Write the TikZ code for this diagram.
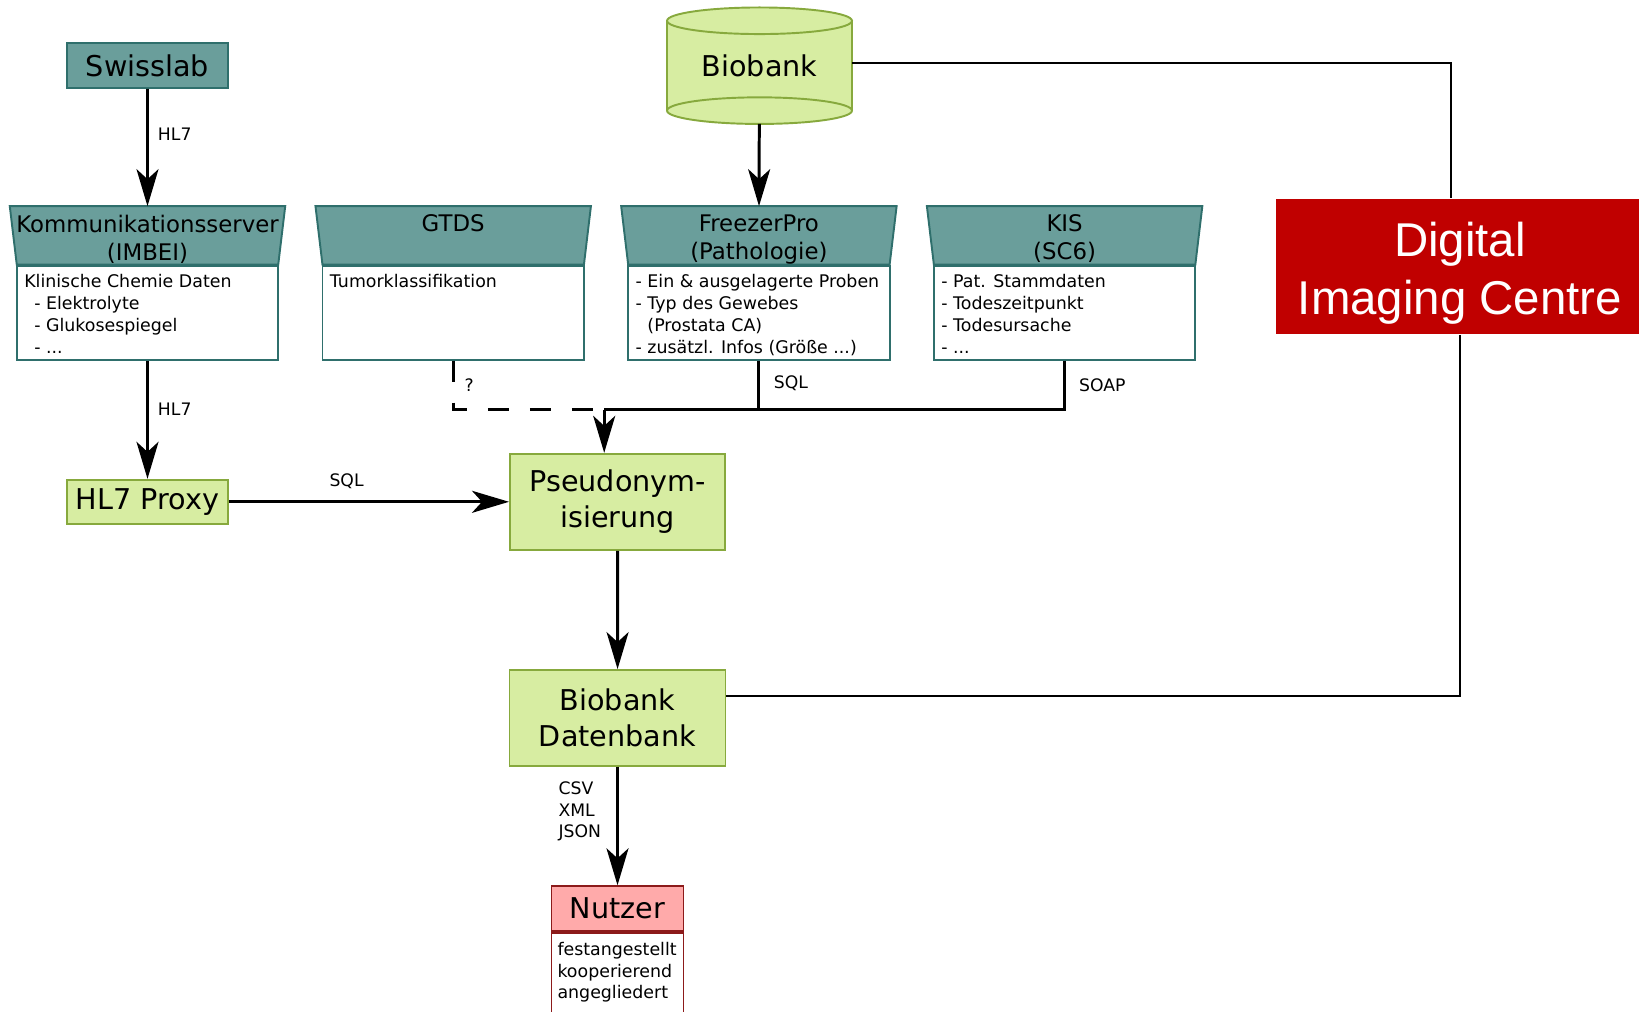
\documentclass[tikz,border=0pt]{standalone}
\usepackage{fontspec}
\setmainfont{DejaVu Sans}
\newfontfamily\dicfont{Liberation Sans}
\usetikzlibrary{arrows.meta,positioning,backgrounds}

\definecolor{tealfill}{HTML}{6A9E9B}
\definecolor{tealline}{HTML}{2F6F6C}
\definecolor{greenfill}{HTML}{D7EDA2}
\definecolor{greenline}{HTML}{87A93D}
\definecolor{userfill}{HTML}{FFAAAA}
\definecolor{userline}{HTML}{8C1A1A}
\definecolor{dicred}{HTML}{C00000}

\newcommand{\headtxt}[1]{\parbox[t][0.83cm][t]{5.5cm}{\centering #1}}
\newcommand{\bodytxt}[1]{\parbox[t][1.52cm][t]{4.93cm}{#1}}

\tikzset{
  srchead/.style={inner xsep=-0.135cm, inner ysep=0.17cm, outer sep=0pt, font=\fontsize{13}{16.1}\selectfont},
  headshape/.style={fill=tealfill, draw=tealline, line width=1.1pt},
  srcbody/.style={draw=tealline, fill=white, line width=1.1pt, inner xsep=0.15cm, inner ysep=0.18cm, font=\fontsize{9.9}{12.5}\selectfont},
  tealbox/.style={draw=tealline, fill=tealfill, line width=1.1pt, minimum width=3.22cm, minimum height=0.9cm, font=\fontsize{16.3}{20.2}\selectfont},
  greenbox/.style={draw=greenline, fill=greenfill, line width=1.1pt, align=center, font=\fontsize{16.3}{20.2}\selectfont},
  cyl/.style={draw=greenline, fill=greenfill, line width=1.1pt},
  dictext/.style={text=white, align=center, font=\dicfont\fontsize{27}{33.3}\selectfont},
  arr/.style={-{Stealth[length=0.74cm,width=0.44cm,inset=0.2cm]}, line width=1.7pt},
  conn/.style={line width=1.7pt},
  dashline/.style={line width=1.7pt, dash pattern=on 0.43cm off 0.41cm},
  thinline/.style={line width=1.1pt},
  lbl/.style={font=\fontsize{9.8}{12.2}\selectfont, anchor=west, inner sep=0pt},
}

\begin{document}
\begin{tikzpicture}[x=0.02cm, y=-0.02cm]
	\path[use as bounding box] (0,0) rectangle (1639,1011);
	\clip (0,0) rectangle (1639,1011);
	%%
	\node[tealbox] (swisslab) at (147.5,65.5) {Swisslab};
	\node[minimum width=3.7cm, minimum height=2.33cm, inner sep=0pt, outer sep=0pt, font=\fontsize{16.3}{20.2}\selectfont] (biobank) at (759.5,65.7) {Biobank};
	\begin{scope}[on background layer]
	\fill[greenfill] ([yshift=-0.266cm]biobank.north west) -- ([yshift=0.266cm]biobank.south west) arc[start angle=180, end angle=360, x radius=1.85cm, y radius=0.266cm] -- ([yshift=-0.266cm]biobank.north east) -- cycle;
	\draw[cyl] ([yshift=0.266cm]biobank.south) ellipse[x radius=1.85cm, y radius=0.266cm];
	\draw[greenline, line width=1.1pt] ([yshift=-0.266cm]biobank.north west) -- ([yshift=0.266cm]biobank.south west);
	\draw[greenline, line width=1.1pt] ([yshift=-0.266cm]biobank.north east) -- ([yshift=0.266cm]biobank.south east);
	\draw[cyl] ([yshift=-0.266cm]biobank.north) ellipse[x radius=1.85cm, y radius=0.266cm];
	\end{scope}
	%%
	\node[srcbody] (kbody) at (147.5,312.6) {\bodytxt{Klinische Chemie Daten\\\hspace*{0.2cm}- Elektrolyte\\\hspace*{0.2cm}- Glukosespiegel\\\hspace*{0.2cm}- ...}};
	\node[srcbody] (gbody) at (453.2,312.6) {\bodytxt{Tumorklassifikation}};
	\node[srcbody] (fbody) at (758.9,312.6) {\bodytxt{- Ein \& ausgelagerte Proben\\- Typ des Gewebes\\\phantom{- }(Prostata CA)\\- zus\"atzl. Infos (Gr\"o\ss e ...)}};
	\node[srcbody] (sbody) at (1064.6,312.6) {\bodytxt{- Pat. Stammdaten\\- Todeszeitpunkt\\- Todesursache\\- ...}};
	\node[srchead, above=0pt of kbody] (khead) {\headtxt{Kommunikationsserver\\(IMBEI)}};
	\node[srchead, above=0pt of gbody] (ghead) {\headtxt{GTDS}};
	\node[srchead, above=0pt of fbody] (fhead) {\headtxt{FreezerPro\\(Pathologie)}};
	\node[srchead, above=0pt of sbody] (shead) {\headtxt{KIS\\(SC6)}};
	\begin{scope}[on background layer]
	\foreach \h in {khead,ghead,fhead,shead}
		\draw[headshape] (\h.south west) -- ([xshift=-0.14cm]\h.north west) -- ([xshift=0.14cm]\h.north east) -- (\h.south east) -- cycle;
	\end{scope}
	%%
	\node[fill=dicred, minimum width=7.35cm, minimum height=2.72cm, label={[dictext, yshift=-0.13cm]center:{Digital\\Imaging Centre}}] (dic) at (1460,266.5) {};
	%%
	\node[greenbox, minimum width=3.22cm, minimum height=0.88cm] (proxy) at (147.5,501.8) {HL7 Proxy};
	\node[greenbox, minimum width=4.31cm, minimum height=1.92cm] (pseudo) at (617.7,501.8) {Pseudonym-\\isierung};
	\node[greenbox, minimum width=4.32cm, minimum height=1.91cm] (dbank) at (617.5,717.8) {Biobank\\Datenbank};
	\node[draw=userline, fill=userfill, line width=1.1pt, minimum width=2.64cm, minimum height=0.89cm, font=\fontsize{16.3}{20.2}\selectfont] (nutzer) at (617.5,908.5) {Nutzer};
	\node[draw=userline, fill=white, line width=1.1pt, inner xsep=0.12cm, inner ysep=0.2cm, below=0pt of nutzer, font=\fontsize{9.9}{12.2}\selectfont] (nutzerbody) {\parbox[t][1.6cm][t]{2.4cm}{festangestellt\\kooperierend\\angegliedert}};
	%%
	\coordinate (merge) at (604.2,409.8);
	\draw[arr] (swisslab) -- node[lbl, pos=0.39, xshift=0.18cm] {HL7} (khead);
	\draw[arr] (biobank) -- (fhead);
	\draw[arr] (kbody) -- node[lbl, pos=0.41, xshift=0.18cm] {HL7} (proxy);
	\draw[arr] (proxy) -- node[lbl, anchor=center, pos=0.42, yshift=0.42cm] {SQL} (pseudo);
	\draw[dashline] (gbody.south) |- node[lbl, pos=0.25, xshift=0.2cm] {?} (merge);
	\draw[conn] (fbody.south) -- node[lbl, pos=0.46, xshift=0.27cm] {SQL} (fbody.south |- merge);
	\draw[conn] (sbody.south) |- node[lbl, pos=0.25, xshift=0.26cm] {SOAP} (merge);
	\draw[arr] (merge) -- (merge |- pseudo.north);
	\draw[arr] (pseudo) -- (dbank);
	\draw[arr] (dbank) -- node[lbl, anchor=east, align=left, pos=0.38, xshift=-0.3cm] {CSV\\XML\\JSON} (nutzer);
	%%
	\draw[thinline] ([yshift=0.06cm]biobank.east) -| ([xshift=-0.18cm]dic.north);
	\draw[thinline] (dic.south) |- ([yshift=0.43cm]dbank.east);
\end{tikzpicture}
\end{document}
